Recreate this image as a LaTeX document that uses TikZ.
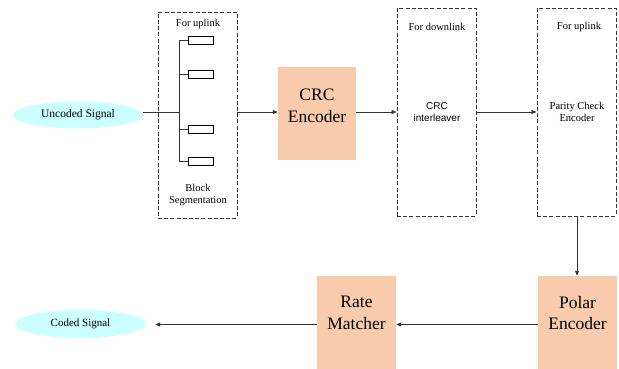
\documentclass[tikz,border=0pt]{standalone}
\usepackage{fontspec}
\setmainfont{Liberation Serif}
\newfontfamily\arialfont{Liberation Sans}
\usetikzlibrary{arrows.meta,shapes.geometric}
\definecolor{sigcyan}{HTML}{CCFFFF}
\definecolor{boxorange}{HTML}{F8CBAD}
\definecolor{linegray}{HTML}{333333}
\begin{document}
\begin{tikzpicture}[x=1pt,y=-1pt,
  sig/.style={ellipse,fill=sigcyan,draw=none,inner sep=0pt},
  orangebox/.style={fill=boxorange,draw=none,inner sep=0pt},
  dashbox/.style={draw=linegray,line width=0.9pt,dash pattern=on 4pt off 2.2pt,inner sep=0pt},
  segbox/.style={draw=black,line width=0.7pt,fill=white,minimum width=25pt,minimum height=8pt,inner sep=0pt},
  small/.style={font=\fontsize{10.5}{12.5}\selectfont,align=center,inner sep=0pt},
  big/.style={font=\fontsize{17.5}{21.5}\selectfont,align=center,inner sep=0pt},
  conn/.style={draw=linegray,line width=0.8pt},
  arr/.style={conn,-{Triangle[length=5pt,width=4pt]}}]
\useasboundingbox (0,0) rectangle (619,369);

% top row
\node[sig,minimum width=130pt,minimum height=27pt,font=\fontsize{11.5}{13}\selectfont] (unc) at (78,115) {Uncoded Signal};
\node[dashbox,minimum width=79pt,minimum height=206pt] (seg) at (197.5,115) {};
\node[small] (segtop) at (198,24) {For uplink};
\node[small] (segtxt) at (198,195) {Block\\Segmentation};
\node[segbox] (s1) at (200.5,40) {};
\node[segbox] (s2) at (200.5,74) {};
\node[segbox] (s3) at (200.5,129) {};
\node[segbox] (s4) at (200.5,161.5) {};
\coordinate (bart) at (179,40);
\coordinate (barb) at (179,161.5);
\coordinate (barm) at (179,112);
\draw[conn,line width=0.7pt] (bart) -- (barb);
\draw[conn,line width=0.7pt] (unc.east |- barm) -- (barm);
\foreach \s in {s1,s2,s3,s4} \draw[conn,line width=0.7pt] (\s.west) -- (\s.west -| barm);

\node[orangebox,minimum width=78pt,minimum height=93pt] (crc) at (317,113.5) {};
\node[big] at (317,106) {CRC\\Encoder};

\node[dashbox,minimum width=79pt,minimum height=208pt] (int) at (436.5,112) {};
\node[small] at (437,27) {For downlink};
\node[small,font=\arialfont\fontsize{10}{12.5}\selectfont] at (437,112) {CRC\\interleaver};

\node[dashbox,minimum width=79pt,minimum height=208pt] (par) at (576.5,112) {};
\node[small] at (579,27) {For uplink};
\node[small] at (577,112) {Parity Check\\Encoder};

\coordinate (row1) at (0,112);
\draw[arr] (seg.east |- row1) -- (crc.west |- row1);
\draw[arr] (crc.east |- row1) -- (int.west |- row1);
\draw[arr] (int.east |- row1) -- (par.west |- row1);

% bottom row
\node[orangebox,minimum width=79pt,minimum height=100pt] (pol) at (577.5,326) {};
\node[big] at (577.5,313) {Polar\\Encoder};
\node[orangebox,minimum width=79pt,minimum height=100pt] (rate) at (356.5,326) {};
\node[big] at (356.5,313) {Rate\\Matcher};
\node[sig,minimum width=131pt,minimum height=28pt,font=\fontsize{11}{13}\selectfont] (cod) at (80.5,324) {Coded Signal};

\draw[arr] (par.south -| 577,0) -- (pol.north -| 577,0);
\coordinate (row2) at (0,324.5);
\draw[arr,line width=1pt] (pol.west |- row2) -- (rate.east |- row2);
\draw[arr,line width=1pt,shorten >=9pt] (rate.west |- row2) -- (cod.east |- row2);
\end{tikzpicture}
\end{document}
